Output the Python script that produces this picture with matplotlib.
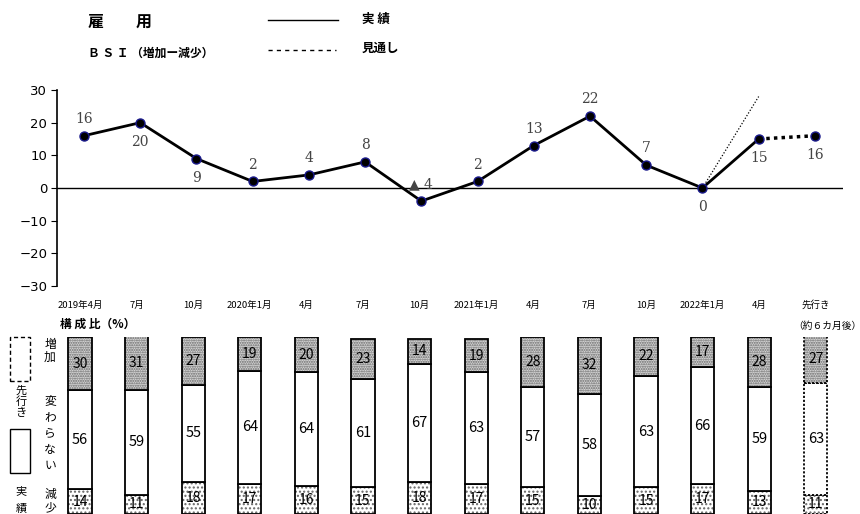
import matplotlib
matplotlib.use('Agg')
from matplotlib import pyplot as plt
from matplotlib.lines import Line2D
from matplotlib.patches import Rectangle

plt.rcParams['font.family'] = ['Noto Sans CJK JP', 'DejaVu Sans']

# data
periods = ['2019年4月', '7月', '10月', '2020年1月', '4月', '7月', '10月',
           '2021年1月', '4月', '7月', '10月', '2022年1月', '4月', '先行き']
bsi = [16, 20, 9, 2, 4, 8, -4, 2, 13, 22, 7, 0, 15]
bsi_outlook = 16
prev_outlook = 28          # 2022年1月時点の見通し(4月)
bsi_labels = ['16', '20', '9', '2', '4', '8', '▲ 4', '2', '13', '22', '7', '0', '15', '16']
label_above = [True, False, False, True, True, True, True, True, True, True, True, False, False, False]
zoka = [30, 31, 27, 19, 20, 23, 14, 19, 28, 32, 22, 17, 28, 27]
kawaranai = [56, 59, 55, 64, 64, 61, 67, 63, 57, 58, 63, 66, 59, 63]
gensho = [14, 11, 18, 17, 16, 15, 18, 17, 15, 10, 15, 17, 13, 11]

W, H = 860, 514
fig = plt.figure(figsize=(W / 100, H / 100), dpi=100)


def box(l, t, r, b):
    return [l / W, 1 - b / H, (r - l) / W, (b - t) / H]


def fx(x):
    return x / W


def fy(y):
    return 1 - y / H


# ---- header ----
fig.text(fx(88), fy(22), '雇　　用', fontsize=11.5, fontweight='bold', va='center')
fig.text(fx(88), fy(53), 'Ｂ Ｓ Ｉ （増加ー減少）', fontsize=8.5, fontweight='bold', va='center')
fig.add_artist(Line2D([fx(268), fx(338)], [fy(20), fy(20)], color='black', lw=1))
fig.add_artist(Line2D([fx(268), fx(336)], [fy(50), fy(50)], color='black', lw=1, ls=(0, (3, 3))))
fig.text(fx(362), fy(19), '実 績', fontsize=9, fontweight='bold', va='center')
fig.text(fx(362), fy(48), '見通し', fontsize=9, fontweight='bold', va='center')

# ---- line chart ----
ax = fig.add_axes(box(57, 90, 843, 286))
x = list(range(len(bsi)))
ax.plot(x, bsi, color='black', lw=2, zorder=3)
ax.plot([len(bsi) - 1, len(bsi)], [bsi[-1], bsi_outlook], color='black', lw=2.5, ls=(0, (1, 1.2)), zorder=3)
ax.plot([11, 12], [bsi[11], prev_outlook], color='black', lw=0.9, ls=(0, (1, 1.5)), zorder=2)
ax.plot(x + [len(bsi)], bsi + [bsi_outlook], ls='none', marker='o', ms=6.5,
        mfc='black', mec='#1a1a8c', mew=1, zorder=4)
ax.axhline(0, color='black', lw=1, zorder=1)
vals = bsi + [bsi_outlook]
for i, v in enumerate(vals):
    off = 12 if label_above[i] else -14
    ax.annotate(bsi_labels[i], (i, v), xytext=(0, off), textcoords='offset points',
                ha='center', va='center', fontsize=10, color='#444444',
                family=['DejaVu Serif', 'DejaVu Sans'])
ax.set_xlim(-0.48, 13.5)
ax.set_ylim(-30, 30)
ax.set_yticks([-30, -20, -10, 0, 10, 20, 30])
ax.set_xticks([])
for s in ['top', 'right', 'bottom']:
    ax.spines[s].set_visible(False)
ax.spines['left'].set_linewidth(1.2)
ax.tick_params(axis='y', direction='out', length=4, labelsize=9.5, pad=3)
for t in ax.get_yticklabels():
    t.set_family('DejaVu Sans')

# ---- bar chart ----
bx = fig.add_axes(box(57, 337, 843, 514))
bx.set_xlim(-0.406, 13.48)
bx.set_ylim(0, 100)
bx.axis('off')
w = 0.41
for i in range(len(periods)):
    segs = [(0, gensho[i], '....', 'white'),
            (gensho[i], kawaranai[i], None, 'white'),
            (gensho[i] + kawaranai[i], zoka[i], '.......', '#d6d6d6')]
    ls = '-' if i < len(periods) - 1 else (0, (1.2, 1))
    for bottom, h, hatch, fc in segs:
        bx.bar(i, h, bottom=bottom, width=w, color=fc, hatch=hatch, edgecolor='#666666', lw=0)
        bx.bar(i, h, bottom=bottom, width=w, fill=False, edgecolor='black', lw=1.3, ls=ls)
    bx.text(i, gensho[i] / 2, str(gensho[i]), ha='center', va='center', fontsize=10)
    bx.text(i, gensho[i] + kawaranai[i] / 2, str(kawaranai[i]), ha='center', va='center', fontsize=10.5)
    bx.text(i, gensho[i] + kawaranai[i] + zoka[i] / 2, str(zoka[i]), ha='center', va='center', fontsize=10)
    bx.text(i, 118, periods[i], ha='center', va='center', fontsize=6.8, clip_on=False)
bx.text(len(periods) - 1 + 0.2, 106.5, '（約６カ月後）', ha='center', va='center', fontsize=7, clip_on=False)

fig.text(fx(60), fy(324), '構 成 比（%）', fontsize=8.5, fontweight='bold', va='center')

# left legend
fig.add_artist(Rectangle((fx(10), fy(381)), fx(20), (381 - 337) / H, fill=False,
                         edgecolor='black', lw=1, ls=(0, (3, 2))))
fig.add_artist(Rectangle((fx(10), fy(473)), fx(20), (473 - 429) / H, fill=False,
                         edgecolor='black', lw=1))
fig.text(fx(21), fy(402), '先\n行\nき', fontsize=8, ha='center', va='center', linespacing=1.05)
fig.text(fx(21), fy(500), '実\n\n績', fontsize=8, ha='center', va='center', linespacing=0.9)
fig.text(fx(50), fy(351), '増\n加', fontsize=8.5, ha='center', va='center', linespacing=1.0)
fig.text(fx(50), fy(433), '変\nわ\nら\nな\nい', fontsize=8.5, ha='center', va='center', linespacing=1.3)
fig.text(fx(50), fy(501), '減\n少', fontsize=8.5, ha='center', va='center', linespacing=1.0)

fig.savefig('out.png', dpi=100)
